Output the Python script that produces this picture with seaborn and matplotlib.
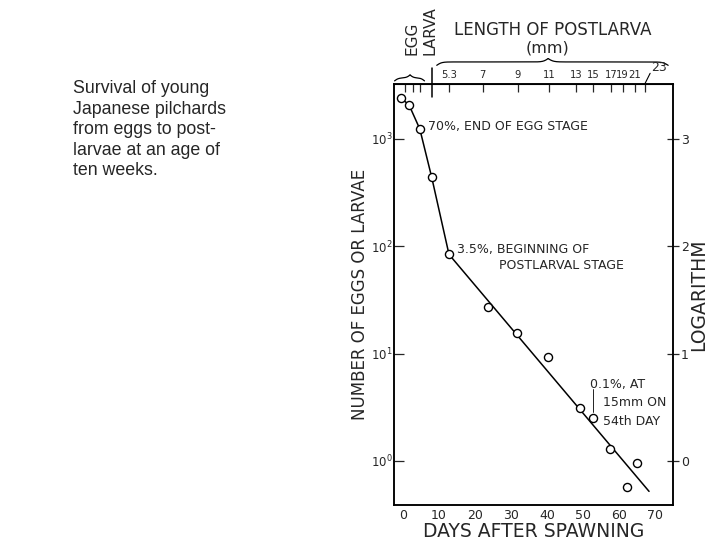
import numpy as np
import matplotlib
matplotlib.use("Agg")
import matplotlib.pyplot as plt
import matplotlib.transforms as mtransforms
import seaborn as sns

# %%
# survival points (day, number)
days = [-0.5, 1.7, 4.7, 8.0, 12.8, 23.6, 31.7, 40.3, 49.2, 52.8, 57.5, 62.2, 65.0]
counts = [2400, 2080, 1240, 440, 84, 27, 15.5, 9.3, 3.1, 2.5, 1.3, 0.57, 0.95]

# drawn curve: joins the early points, then a straight fit
line_days = [-0.5, 1.7, 4.7, 8.0, 12.8, 68.3]
line_counts = [2400, 2080, 1240, 440, 84, 0.52]

# top scale: length of postlarva (mm)
top_days = [12.8, 22.2, 31.9, 40.5, 48.0, 52.8, 57.7, 61.0, 64.4]
top_labels = ["5.3", "7", "9", "11", "13", "15", "17", "19", "21"]
last_len_day = 67.2
last_len_label = "23"
egg_tick_days = [0.5, 2.8, 4.7]

x_ticks = [0, 10, 20, 30, 40, 50, 60, 70]
log_ticks = [0, 1, 2, 3]

caption = ("Survival of young\nJapanese pilchards\nfrom eggs to post-\n"
           "larvae at an age of\nten weeks.")

# %%
sns.set_style("white")
plt.rcParams["font.family"] = ["DejaVu Sans"]

fig = plt.figure(figsize=(7.2, 5.4), dpi=100)
ax = fig.add_axes([0.547, 0.065, 0.388, 0.779])

sns.lineplot(x=line_days, y=line_counts, ax=ax, color="black", lw=1.1, sort=False)
sns.scatterplot(x=days, y=counts, ax=ax, marker="o", s=34, facecolor="white",
                edgecolor="black", linewidth=1.0, zorder=3)

lo, hi = 10 ** -0.41, 10 ** 3.51
ax.set_yscale("log")
ax.set_xlim(-2.5, 75)
ax.set_ylim(lo, hi)
ax.minorticks_off()
ax.set_xticks(x_ticks)
ax.set_yticks([1, 10, 100, 1000])
ax.tick_params(axis="x", direction="in", length=6, width=0.9, pad=3, labelsize=9)
ax.tick_params(axis="y", direction="in", length=7, width=0.9, pad=1, labelsize=8.5)
for s in ax.spines.values():
    s.set_color("black")
    s.set_linewidth(1.1)

ax.set_xlabel("DAYS AFTER SPAWNING", fontsize=13.5, labelpad=0)
ax.set_ylabel("NUMBER OF EGGS OR LARVAE", fontsize=12, labelpad=1)

# right axis: logarithm
ax_r = ax.twinx()
ax_r.set_ylim(np.log10(lo), np.log10(hi))
ax_r.set_yticks(log_ticks)
ax_r.set_yticklabels([str(v) for v in log_ticks])
ax_r.tick_params(direction="inout", length=9, width=0.9, pad=1, labelsize=9)
ax_r.set_ylabel("LOGARITHM", fontsize=13.5, labelpad=0)
for s in ax_r.spines.values():
    s.set_color("black")
    s.set_linewidth(1.1)

# top axis: postlarva length
ax_t = ax.secondary_xaxis("top")
ax_t.set_xticks(top_days + egg_tick_days + [last_len_day])
ax_t.set_xticklabels(top_labels + [""] * len(egg_tick_days) + [""])
ax_t.tick_params(direction="in", length=6, width=0.9, pad=3, labelsize=7.2)

bt = mtransforms.blended_transform_factory(ax.transData, ax.transAxes)


def brace(x0, x1, xm, y, h, beta):
    for a, b in [(x0, xm), (xm, x1)]:
        t = np.linspace(0, 1, 200)
        yy = 1 / (1 + np.exp(-beta * t)) + 1 / (1 + np.exp(-beta * (t - 1)))
        if a == xm:
            yy = yy[::-1]
        ax.plot(a + (b - a) * t, y + (yy - 0.5) * h, color="black", lw=0.9,
                transform=bt, clip_on=False)


brace(-2.3, 6.0, 2.0, 1.008, 0.014, 8)
brace(9.4, 73.6, 40.3, 1.045, 0.016, 45)

# egg / larva divider and labels
ax.plot([8.0, 8.0], [0.969, 1.038], color="black", lw=1.1, transform=bt, clip_on=False)
ax.text(2.6, 1.069, "EGG", rotation=90, fontsize=11, ha="center", va="bottom",
        transform=bt)
ax.text(7.6, 1.069, "LARVA", rotation=90, fontsize=11, ha="center", va="bottom",
        transform=bt)
ax.plot([last_len_day, 68.6], [1.002, 1.026], color="black", lw=0.8, transform=bt,
        clip_on=False)
ax.text(68.9, 1.024, last_len_label, fontsize=9, ha="left", va="bottom", transform=bt)
ax.text(41.5, 1.128, "LENGTH OF POSTLARVA", fontsize=12, ha="center", va="center",
        transform=bt)
ax.text(40.2, 1.086, "(mm)", fontsize=11.5, ha="center", va="center", transform=bt)

# annotations
ax.text(6.9, 1320, "70%, END OF EGG STAGE", fontsize=9, va="center")
ax.text(15.0, 93, "3.5%, BEGINNING OF", fontsize=9, va="center")
ax.text(26.7, 66, "POSTLARVAL STAGE", fontsize=9, va="center")
ax.text(51.9, 5.2, "0.1%, AT", fontsize=9, va="center")
ax.text(55.5, 3.5, "15mm ON", fontsize=9, va="center")
ax.text(55.5, 2.35, "54th DAY", fontsize=9, va="center")
ax.plot([52.8, 52.8], [4.7, 2.85], color="black", lw=0.6)

fig.text(0.101, 1 - 80 / 540, caption, fontsize=12.8, family=["Liberation Sans"],
         va="top", ha="left", linespacing=1.27)

fig.savefig("out.png", dpi=100)
